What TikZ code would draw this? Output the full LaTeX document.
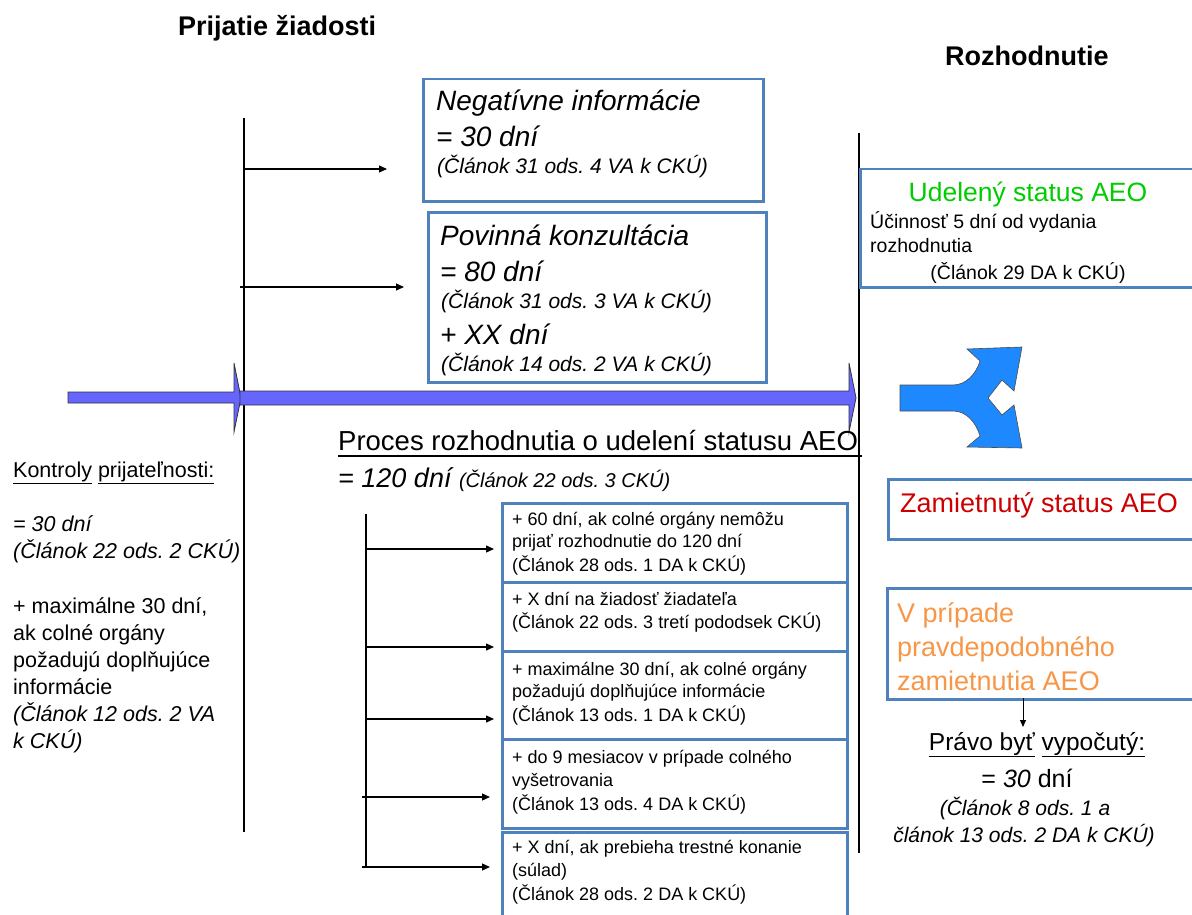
\documentclass[tikz,border=0pt]{standalone}
\usepackage{fontspec}
\setmainfont{Liberation Sans}
\usetikzlibrary{arrows.meta}
\definecolor{boxblue}{RGB}{79,129,189}
\definecolor{arrowfill}{RGB}{102,102,255}
\definecolor{forkblue}{RGB}{30,136,255}
\definecolor{aeogreen}{RGB}{0,204,0}
\definecolor{aeored}{RGB}{204,0,0}
\definecolor{aeoorange}{RGB}{247,150,70}
\newcommand\fsz[1]{\fontsize{#1}{#1}\selectfont}
\newcommand\ulw[1]{\underline{#1\vphantom{gjpy}}}
\frenchspacing
\begin{document}
\frenchspacing
\begin{tikzpicture}[x=1pt,y=-1pt,
  bx/.style={draw=boxblue,line width=2.5pt,anchor=north west,inner sep=0pt},
  lt/.style={anchor=base west,inner sep=0pt},
  ct/.style={anchor=base,inner sep=0pt},
  vline/.style={line width=1.2pt},
  conn/.style={line width=1.2pt,-{Triangle[length=8pt,width=7pt]}},
  bigarrow/.style={fill=arrowfill,draw=black!80,line width=0.8pt},
]
\useasboundingbox (0,0) rectangle (1192,915);

% headers
\node[lt,font=\fsz{27}\bfseries] (hdr1) at (178,36) {Prijatie žiadosti};
\node[lt,font=\fsz{27}\bfseries] (hdr2) at (945,66) {Rozhodnutie};

% top boxes
\node[bx,minimum width=340pt,minimum height=122pt] (negbox) at (422,78) {};
\node[lt,font=\fsz{28}\itshape] (neg1) at (436,111) {Negatívne informácie};
\node[lt,font=\fsz{28}\itshape] (neg2) at (436,147) {= 30 dní};
\node[lt,font=\fsz{21}\itshape] (neg3) at (437,174) {(Článok 31 ods. 4 VA k CKÚ)};

\node[bx,minimum width=338pt,minimum height=170pt] (povbox) at (427,211) {};
\node[lt,font=\fsz{28}\itshape] (pov1) at (440,245) {Povinná konzultácia};
\node[lt,font=\fsz{28}\itshape] (pov2) at (440,281) {= 80 dní};
\node[lt,font=\fsz{21}\itshape] (pov3) at (441,308) {(Článok 31 ods. 3 VA k CKÚ)};
\node[lt,font=\fsz{28}\itshape] (pov4) at (440,344) {+ XX dní};
\node[lt,font=\fsz{21}\itshape] (pov5) at (441,371) {(Článok 14 ods. 2 VA k CKÚ)};

% left timeline line and arrows
\coordinate (lvt) at (244,118);
\coordinate (lvb) at (244,832);
\draw[vline] (lvt) -- (lvb);
\coordinate (a1s) at (244,169);
\coordinate (a1e) at (387,169);
\coordinate (a2s) at (240,287);
\coordinate (a2e) at (404,287);
\draw[conn] (a1s) -- (a1e);
\draw[conn] (a2s) -- (a2e);

% right timeline line
\coordinate (rvt) at (859,133);
\coordinate (rvb) at (859,853);
\draw[vline] (rvt) -- (rvb);

% big arrows
\draw[bigarrow] (68,392) -- (234,392) -- (234,363) -- (241,398) -- (234,432) -- (234,403) -- (68,403) -- cycle;
\draw[bigarrow] (240,391) -- (849,391) -- (849,363) -- (856,398) -- (849,432) -- (849,405) -- (240,405) -- cycle;

% process text
\node[lt,font=\fsz{27.5}] (proc) at (338,450) {Proces rozhodnutia o udelení statusu AEO};
\coordinate (pul1) at (338,456);
\coordinate (pul2) at (862,456);
\draw[line width=1.2pt] (pul1) -- (pul2);
\node[lt,font=\fsz{27}\itshape] (proc2) at (338,487) {= 120 dní {\fsz{20}(Článok 22 ods. 3 CKÚ)}};

% left text
\node[lt,font=\fsz{21.5}] (k1) at (13,477) {\ulw{Kontroly} \ulw{prijateľnosti:}};
\node[lt,font=\fsz{21.5}\itshape] (k2) at (13,531) {= 30 dní};
\node[lt,font=\fsz{21.5}\itshape] (k3) at (13,558) {(Článok 22 ods. 2 CKÚ)};
\node[lt,font=\fsz{21.5}] (k4) at (13,613) {+ maximálne 30 dní,};
\node[lt,font=\fsz{21.5}] (k5) at (13,640) {ak colné orgány};
\node[lt,font=\fsz{21.5}] (k6) at (13,667) {požadujú doplňujúce};
\node[lt,font=\fsz{21.5}] (k7) at (13,694) {informácie};
\node[lt,font=\fsz{21.5}\itshape] (k8) at (13,721) {(Článok 12 ods. 2 VA};
\node[lt,font=\fsz{21.5}\itshape] (k9) at (13,748) {k CKÚ)};

% bottom bracket
\coordinate (bvt) at (366,514);
\coordinate (bvb) at (366,867);
\draw[vline] (bvt) -- (bvb);
\coordinate (b1s) at (366,549);  \coordinate (b1e) at (494,549);
\coordinate (b2s) at (366,647);  \coordinate (b2e) at (494,647);
\coordinate (b3s) at (366,719);  \coordinate (b3e) at (494,719);
\coordinate (b4s) at (362,797);  \coordinate (b4e) at (490,797);
\coordinate (b5s) at (362,867);  \coordinate (b5e) at (490,867);
\draw[conn] (b1s) -- (b1e);
\draw[conn] (b2s) -- (b2e);
\draw[conn] (b3s) -- (b3e);
\draw[conn] (b4s) -- (b4e);
\draw[conn] (b5s) -- (b5e);

% bottom boxes
\node[bx,minimum width=345pt,minimum height=79pt] (bb1) at (501,502) {};
\node[bx,minimum width=345pt,minimum height=69pt] (bb2) at (501,581) {};
\node[bx,minimum width=345pt,minimum height=88pt] (bb3) at (501,650) {};
\node[bx,minimum width=345pt,minimum height=89pt] (bb4) at (501,738) {};
\node[bx,minimum width=345pt,minimum height=100pt] (bb5) at (501,831) {};

\node[lt,font=\fsz{18}] (t11) at (512,525) {+ 60 dní, ak colné orgány nemôžu};
\node[lt,font=\fsz{18}] (t12) at (512,547) {prijať rozhodnutie do 120 dní};
\node[lt,font=\fsz{18}] (t13) at (512,571) {(Článok 28 ods. 1 DA k CKÚ)};
\node[lt,font=\fsz{18}] (t21) at (512,605) {+ X dní na žiadosť žiadateľa};
\node[lt,font=\fsz{18}] (t22) at (512,628) {(Článok 22 ods. 3 tretí pododsek CKÚ)};
\node[lt,font=\fsz{18}] (t31) at (512,675) {+ maximálne 30 dní, ak colné orgány};
\node[lt,font=\fsz{18}] (t32) at (512,697) {požadujú doplňujúce informácie};
\node[lt,font=\fsz{18}] (t33) at (512,721) {(Článok 13 ods. 1 DA k CKÚ)};
\node[lt,font=\fsz{18}] (t41) at (512,763) {+ do 9 mesiacov v prípade colného};
\node[lt,font=\fsz{18}] (t42) at (512,786) {vyšetrovania};
\node[lt,font=\fsz{18}] (t43) at (512,810) {(Článok 13 ods. 4 DA k CKÚ)};
\node[lt,font=\fsz{18}] (t51) at (512,853) {+ X dní, ak prebieha trestné konanie};
\node[lt,font=\fsz{18}] (t52) at (512,876) {(súlad)};
\node[lt,font=\fsz{18}] (t53) at (512,900) {(Článok 28 ods. 2 DA k CKÚ)};

% right side: granted
\node[bx,minimum width=360pt,minimum height=118pt] (udbox) at (859,168) {};
\node[ct,font=\fsz{26.5},text=aeogreen] (ud1) at (1028,201) {Udelený status AEO};
\node[lt,font=\fsz{19.5}] (ud2) at (870,228) {Účinnosť 5 dní od vydania};
\node[lt,font=\fsz{19.5}] (ud3) at (870,252) {rozhodnutia};
\node[ct,font=\fsz{19.5}] (ud4) at (1028,279) {(Článok 29 DA k CKÚ)};

% fork arrow
\draw[fill=forkblue,draw=black!70,line width=0.6pt]
  (900,385) -- (953,385) .. controls (966,385) and (976,374) .. (980,361)
  -- (967,349) -- (1022,347) -- (1014,391) -- (1002,380) -- (988,398)
  -- (1002,415) -- (1014,405) -- (1022,448) -- (967,447) -- (980,436)
  .. controls (976,422) and (966,411) .. (953,411) -- (900,411) -- cycle;

% rejected
\node[bx,minimum width=330pt,minimum height=60pt] (zabox) at (887,478) {};
\node[lt,font=\fsz{27},text=aeored] (za1) at (900,512) {Zamietnutý status AEO};

% probable rejection
\node[bx,minimum width=330pt,minimum height=111pt] (vpbox) at (886,587) {};
\node[lt,font=\fsz{27},text=aeoorange] (vp1) at (897,622) {V prípade};
\node[lt,font=\fsz{27},text=aeoorange] (vp2) at (897,656) {pravdepodobného};
\node[lt,font=\fsz{27},text=aeoorange] (vp3) at (897,690) {zamietnutia AEO};

\coordinate (vpa1) at (1023,698);
\coordinate (vpa2) at (1023,727);
\draw[line width=1pt,-{Triangle[length=7pt,width=6pt]}] (vpa1) -- (vpa2);

\node[ct,font=\fsz{24.5}] (pr1) at (1037,750) {\ulw{Právo byť} \ulw{vypočutý:}};
\node[ct,font=\fsz{25}] (pr2) at (1027,787) {= {\itshape 30} dní};
\node[ct,font=\fsz{21}\itshape] (pr3) at (1025,815) {(Článok 8 ods. 1 a};
\node[ct,font=\fsz{21}\itshape] (pr4) at (1024,842) {článok 13 ods. 2 DA k CKÚ)};
\end{tikzpicture}
\end{document}
